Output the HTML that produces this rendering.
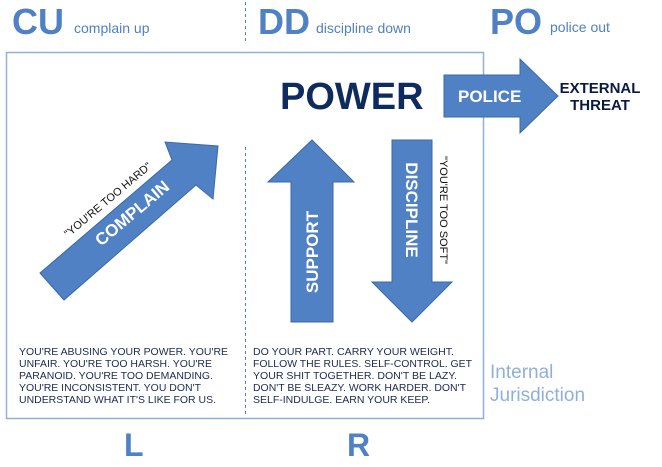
<!DOCTYPE html>
<html><head><meta charset="utf-8"><style>
html,body{margin:0;padding:0;background:#fff}
svg{display:block}
text{font-family:"Liberation Sans",Arial,sans-serif}
</style></head><body>
<svg width="662" height="467" viewBox="0 0 662 467" xmlns="http://www.w3.org/2000/svg">
<!-- top labels -->
<g fill="#4f81c4" font-weight="bold">
<text x="12" y="34" font-size="36">CU</text>
<text x="258" y="34" font-size="36">DD</text>
<text x="490" y="34" font-size="36">PO</text>
</g>
<g fill="#4f81c4" font-size="14">
<text x="74" y="33">complain up</text>
<text x="316" y="33">discipline down</text>
<text x="550" y="32">police out</text>
</g>
<line x1="245.5" y1="2" x2="245.5" y2="43" stroke="#4f81c4" stroke-dasharray="3,3"/>
<!-- box -->
<rect x="6.5" y="52.5" width="477" height="366" fill="none" stroke="#8fb0d8" stroke-width="1.5"/>
<line x1="245.5" y1="147" x2="245.5" y2="416" stroke="#4f81c4" stroke-dasharray="3,3"/>
<text x="280" y="109" font-size="38" font-weight="bold" fill="#0f2a5e">POWER</text>
<!-- police arrow -->
<polygon points="444,75 520,75 520,59 558,96 520,133 520,117 444,117" fill="#4f81c4" stroke="#3a6aa6"/>
<text x="458" y="102" font-size="17" font-weight="bold" fill="#fff">POLICE</text>
<text x="600" y="93" font-size="15" font-weight="bold" fill="#0a1a40" text-anchor="middle">EXTERNAL</text>
<text x="600" y="110" font-size="15" font-weight="bold" fill="#0a1a40" text-anchor="middle">THREAT</text>
<!-- complain arrow -->
<polygon points="40,273 172,160 165,142 218,146 213,199 196,185 64,300" fill="#4f81c4" stroke="#3a6aa6"/>
<g transform="translate(132,213) rotate(-40)">
<text x="0" y="6" font-size="17" font-weight="bold" fill="#fff" text-anchor="middle">COMPLAIN</text>
<text x="-10" y="-22" font-size="11" fill="#111" text-anchor="middle">"YOU'RE TOO HARD"</text>
</g>
<!-- support -->
<polygon points="312,140 354,182 333,182 333,322 291,322 291,182 268,182" fill="#4f81c4" stroke="#3a6aa6"/>
<text transform="translate(318,252) rotate(-90)" font-size="17" font-weight="bold" fill="#fff" text-anchor="middle">SUPPORT</text>
<!-- discipline -->
<polygon points="392,140 432,140 432,282 452,282 412,322 372,282 392,282" fill="#4f81c4" stroke="#3a6aa6"/>
<text transform="translate(406,210) rotate(90)" font-size="17" font-weight="bold" fill="#fff" text-anchor="middle">DISCIPLINE</text>
<text transform="translate(440,210) rotate(90)" font-size="11" fill="#111" text-anchor="middle">"YOU'RE TOO SOFT"</text>
<!-- bottom texts -->
<g font-size="10.5" fill="#1a2a50">
<text x="19" y="355" textLength="209" lengthAdjust="spacingAndGlyphs">YOU'RE ABUSING YOUR POWER. YOU'RE</text>
<text x="19" y="367" textLength="193" lengthAdjust="spacingAndGlyphs">UNFAIR. YOU'RE TOO HARSH. YOU'RE</text>
<text x="19" y="379" textLength="194" lengthAdjust="spacingAndGlyphs">PARANOID. YOU'RE TOO DEMANDING.</text>
<text x="19" y="391" textLength="182" lengthAdjust="spacingAndGlyphs">YOU'RE INCONSISTENT. YOU DON'T</text>
<text x="19" y="403" textLength="197" lengthAdjust="spacingAndGlyphs">UNDERSTAND WHAT IT'S LIKE FOR US.</text>
<text x="253" y="355" textLength="201" lengthAdjust="spacingAndGlyphs">DO YOUR PART. CARRY YOUR WEIGHT.</text>
<text x="253" y="367" textLength="219" lengthAdjust="spacingAndGlyphs">FOLLOW THE RULES. SELF-CONTROL. GET</text>
<text x="253" y="379" textLength="204" lengthAdjust="spacingAndGlyphs">YOUR SHIT TOGETHER. DON'T BE LAZY.</text>
<text x="253" y="391" textLength="213" lengthAdjust="spacingAndGlyphs">DON'T BE SLEAZY. WORK HARDER. DON'T</text>
<text x="253" y="403" textLength="177" lengthAdjust="spacingAndGlyphs">SELF-INDULGE. EARN YOUR KEEP.</text>
</g>
<text x="490" y="378" font-size="19" fill="#8fb0d8">Internal</text>
<text x="490" y="401" font-size="19" fill="#8fb0d8">Jurisdiction</text>
<text x="124" y="456" font-size="32" font-weight="bold" fill="#4f81c4">L</text>
<text x="347" y="456" font-size="32" font-weight="bold" fill="#4f81c4">R</text>
</svg>
</body></html>
